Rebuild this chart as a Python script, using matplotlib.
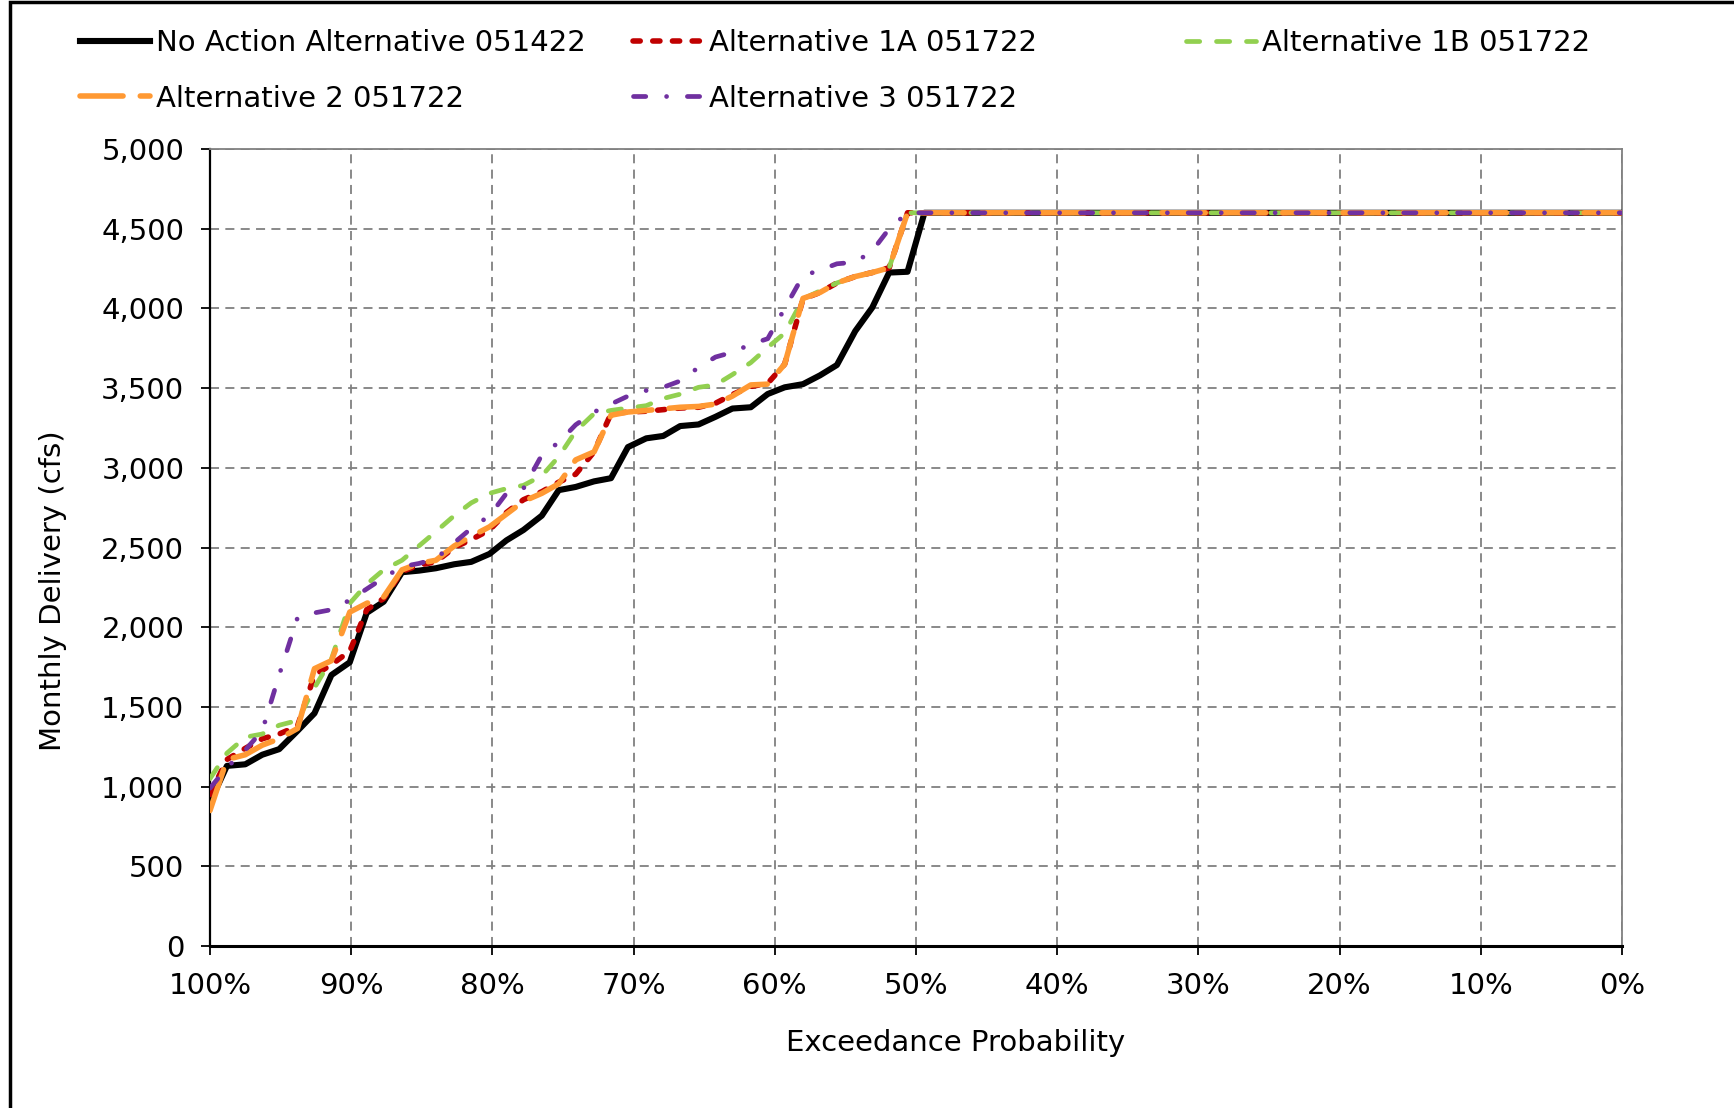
import matplotlib
matplotlib.use('Agg')
import matplotlib.pyplot as plt
from matplotlib.ticker import FuncFormatter
from matplotlib.patches import Rectangle

# exceedance probability (%) of each sorted monthly value, flat at the cap after ~49%
exceedance = [100.0, 98.8, 97.5, 96.3, 95.1, 93.8, 92.6, 91.4, 90.1, 88.9,
              87.7, 86.4, 85.2, 84.0, 82.7, 81.5, 80.2, 79.0, 77.8, 76.5,
              75.3, 74.1, 72.8, 71.6, 70.4, 69.1, 67.9, 66.7, 65.4, 64.2,
              63.0, 61.7, 60.5, 59.3, 58.0, 56.8, 55.6, 54.3, 53.1, 51.9,
              50.6, 49.4, 0.0]

no_action = [900, 1130, 1140, 1200, 1235, 1350, 1460, 1700, 1780, 2090,
             2160, 2345, 2355, 2370, 2395, 2410, 2460, 2545, 2610, 2700,
             2860, 2880, 2915, 2935, 3130, 3185, 3200, 3262, 3272, 3320,
             3372, 3380, 3463, 3505, 3525, 3580, 3645, 3858, 4005, 4225,
             4230, 4600, 4600]

alt_1a = [950, 1170, 1240, 1300, 1330, 1380, 1700, 1765, 1850, 2110,
          2180, 2350, 2390, 2410, 2500, 2550, 2610, 2720, 2800, 2850,
          2910, 2960, 3100, 3340, 3350, 3355, 3365, 3375, 3380, 3405,
          3460, 3510, 3530, 3650, 4060, 4100, 4160, 4200, 4225, 4255,
          4600, 4600, 4600]

alt_1b = [1050, 1210, 1310, 1330, 1385, 1415, 1620, 1800, 2150, 2270,
          2360, 2420, 2510, 2600, 2700, 2780, 2840, 2870, 2890, 2950,
          3070, 3230, 3340, 3360, 3375, 3390, 3435, 3462, 3505, 3520,
          3585, 3660, 3755, 3845, 4060, 4110, 4160, 4200, 4225, 4255,
          4600, 4600, 4600]

alt_2 = [850, 1170, 1200, 1260, 1300, 1365, 1740, 1790, 2095, 2150,
         2190, 2360, 2400, 2420, 2510, 2570, 2630, 2710, 2790, 2840,
         2900, 3050, 3100, 3330, 3350, 3360, 3370, 3380, 3385, 3400,
         3450, 3520, 3525, 3650, 4063, 4100, 4160, 4200, 4225, 4255,
         4600, 4600, 4600]

alt_3 = [990, 1120, 1230, 1350, 1700, 2060, 2090, 2110, 2170, 2240,
         2310, 2380, 2400, 2430, 2530, 2620, 2700, 2840, 2870, 3080,
         3160, 3270, 3350, 3400, 3450, 3485, 3505, 3545, 3630, 3695,
         3725, 3775, 3810, 4000, 4205, 4240, 4280, 4290, 4360, 4500,
         4600, 4600, 4600]

labels = ['No Action Alternative 051422', 'Alternative 1A 051722',
          'Alternative 1B 051722', 'Alternative 2 051722',
          'Alternative 3 051722']

x_ticks = [100, 90, 80, 70, 60, 50, 40, 30, 20, 10, 0]
y_ticks = [0, 500, 1000, 1500, 2000, 2500, 3000, 3500, 4000, 4500, 5000]

FS = 21

fig = plt.figure(figsize=(17.34, 11.08), dpi=100)
ax = fig.add_axes([0.1211, 0.1462, 0.8143, 0.7193])

l0, = ax.plot(exceedance, no_action, color='black', lw=4.4,
              solid_joinstyle='round', zorder=3, label=labels[0])
l1, = ax.plot(exceedance, alt_1a, color='#C00000', lw=4.0, dashes=(1.3, 2.25),
              dash_capstyle='round', zorder=4, label=labels[1])
l2, = ax.plot(exceedance, alt_1b, color='#92D050', lw=3.4, dashes=(2.8, 3.55),
              dash_capstyle='round', zorder=5, label=labels[2])
l3, = ax.plot(exceedance, alt_2, color='#FF9933', lw=4.0, dashes=(7.75, 3.1),
              dash_capstyle='round', zorder=6, label=labels[3])
l4, = ax.plot(exceedance, alt_3, color='#7030A0', lw=3.4,
              dashes=(2.6, 4.4, 0.01, 4.4), dash_capstyle='round', zorder=7,
              label=labels[4])

ax.set_xlim(100, 0)
ax.set_ylim(0, 5000)
ax.set_xticks(x_ticks)
ax.set_yticks(y_ticks)
ax.xaxis.set_major_formatter(FuncFormatter(lambda v, p: f'{int(v)}%'))
ax.yaxis.set_major_formatter(FuncFormatter(lambda v, p: f'{int(v):,}'))
ax.tick_params(axis='both', direction='out', length=6.5, width=1.3,
               labelsize=FS, pad=12, colors='black')

ax.grid(True, color='#808080', lw=1.3, linestyle=(0, (5, 3.5)), zorder=1)
ax.set_axisbelow(True)

for s in ['top', 'right']:
    ax.spines[s].set_color('#808080')
    ax.spines[s].set_linewidth(1.3)
ax.spines['left'].set_color('black')
ax.spines['left'].set_linewidth(1.6)
ax.spines['bottom'].set_color('black')
ax.spines['bottom'].set_linewidth(2.2)

ax.set_xlabel('Exceedance Probability', fontsize=FS, va='center')
ax.set_ylabel('Monthly Delivery (cfs)', fontsize=FS, va='center')
ax.xaxis.set_label_coords(0.528, -0.1217)
ax.yaxis.set_label_coords(-0.111, 0.446)

# legend columns are placed one by one, like the spreadsheet does
leg_kw = dict(loc='upper left', frameon=False, fontsize=FS, borderpad=0,
              borderaxespad=0, handlelength=2.4, handletextpad=0.2,
              labelspacing=0.95)
fig.legend(handles=[l0, l3], bbox_to_anchor=(80 / 1734, 0.974), **leg_kw)
fig.legend(handles=[l1, l4], bbox_to_anchor=(633 / 1734, 0.974), **leg_kw)
fig.legend(handles=[l2], bbox_to_anchor=(1186 / 1734, 0.974), **leg_kw)

# chart border (only left and top edges are inside the picture)
fig.patches.append(Rectangle((0.0058, -0.5), 2, 1.4985, transform=fig.transFigure,
                             fill=False, ec='black', lw=2.5))

fig.savefig('out.png', dpi=100)
